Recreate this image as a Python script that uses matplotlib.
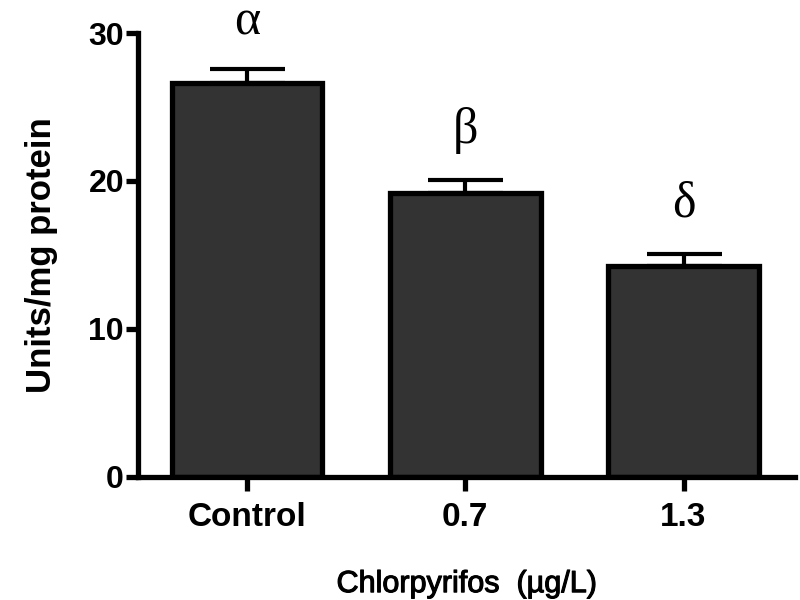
import numpy as np
import matplotlib
matplotlib.use("Agg")
import matplotlib.pyplot as plt
import matplotlib.patheffects as pe

# data
groups = ["Control", "0.7", "1.3"]
means = [26.6, 19.2, 14.25]
errors = [1.0, 0.9, 0.8]
letters = ["\u03b1", "\u03b2", "\u03b4"]
letter_y = [29.9, 22.6, 17.6]

plt.rcParams['font.family'] = ['Liberation Sans', 'DejaVu Sans']

fig = plt.figure(figsize=(8, 6), dpi=100)
ax = fig.add_axes([0.1725, 0.205, 0.821, 0.74])

x = np.arange(len(groups))
ax.bar(x, means, width=0.69, color="#333333", edgecolor="black", linewidth=3.8, zorder=2)
ax.errorbar(x, means, yerr=[np.zeros(len(errors)), errors], fmt="none",
            ecolor="black", elinewidth=3, capsize=27, capthick=3, zorder=1)

# significance letters above bars
for xi, lab, ly in zip(x, letters, letter_y):
    ax.text(xi, ly, lab, ha="center", va="baseline", fontsize=36,
            family=["Liberation Serif", "DejaVu Serif"], clip_on=False)

ax.set_xlim(-0.5, 2.51)
ax.set_ylim(0, 30)
ax.set_yticks([0, 10, 20, 30])
ax.set_xticks(x)
ax.set_xticklabels(groups)

for side in ["top", "right"]:
    ax.spines[side].set_visible(False)
for side in ["left", "bottom"]:
    ax.spines[side].set_linewidth(3.8)

ax.tick_params(axis="y", length=9, width=3.8, labelsize=23, pad=1)
ax.tick_params(axis="x", length=10, width=3.8, labelsize=24, pad=8)
for t in ax.get_xticklabels() + ax.get_yticklabels():
    t.set_fontweight("bold")

ax.set_ylabel("Units/mg protein", fontsize=25, fontweight="bold", labelpad=22)
xl = ax.set_xlabel("Chlorpyrifos  (\u00b5g/L)", fontsize=22, labelpad=26)
# medium weight look
xl.set_path_effects([pe.withStroke(linewidth=0.8, foreground="black")])

fig.savefig("out.png", dpi=100)
